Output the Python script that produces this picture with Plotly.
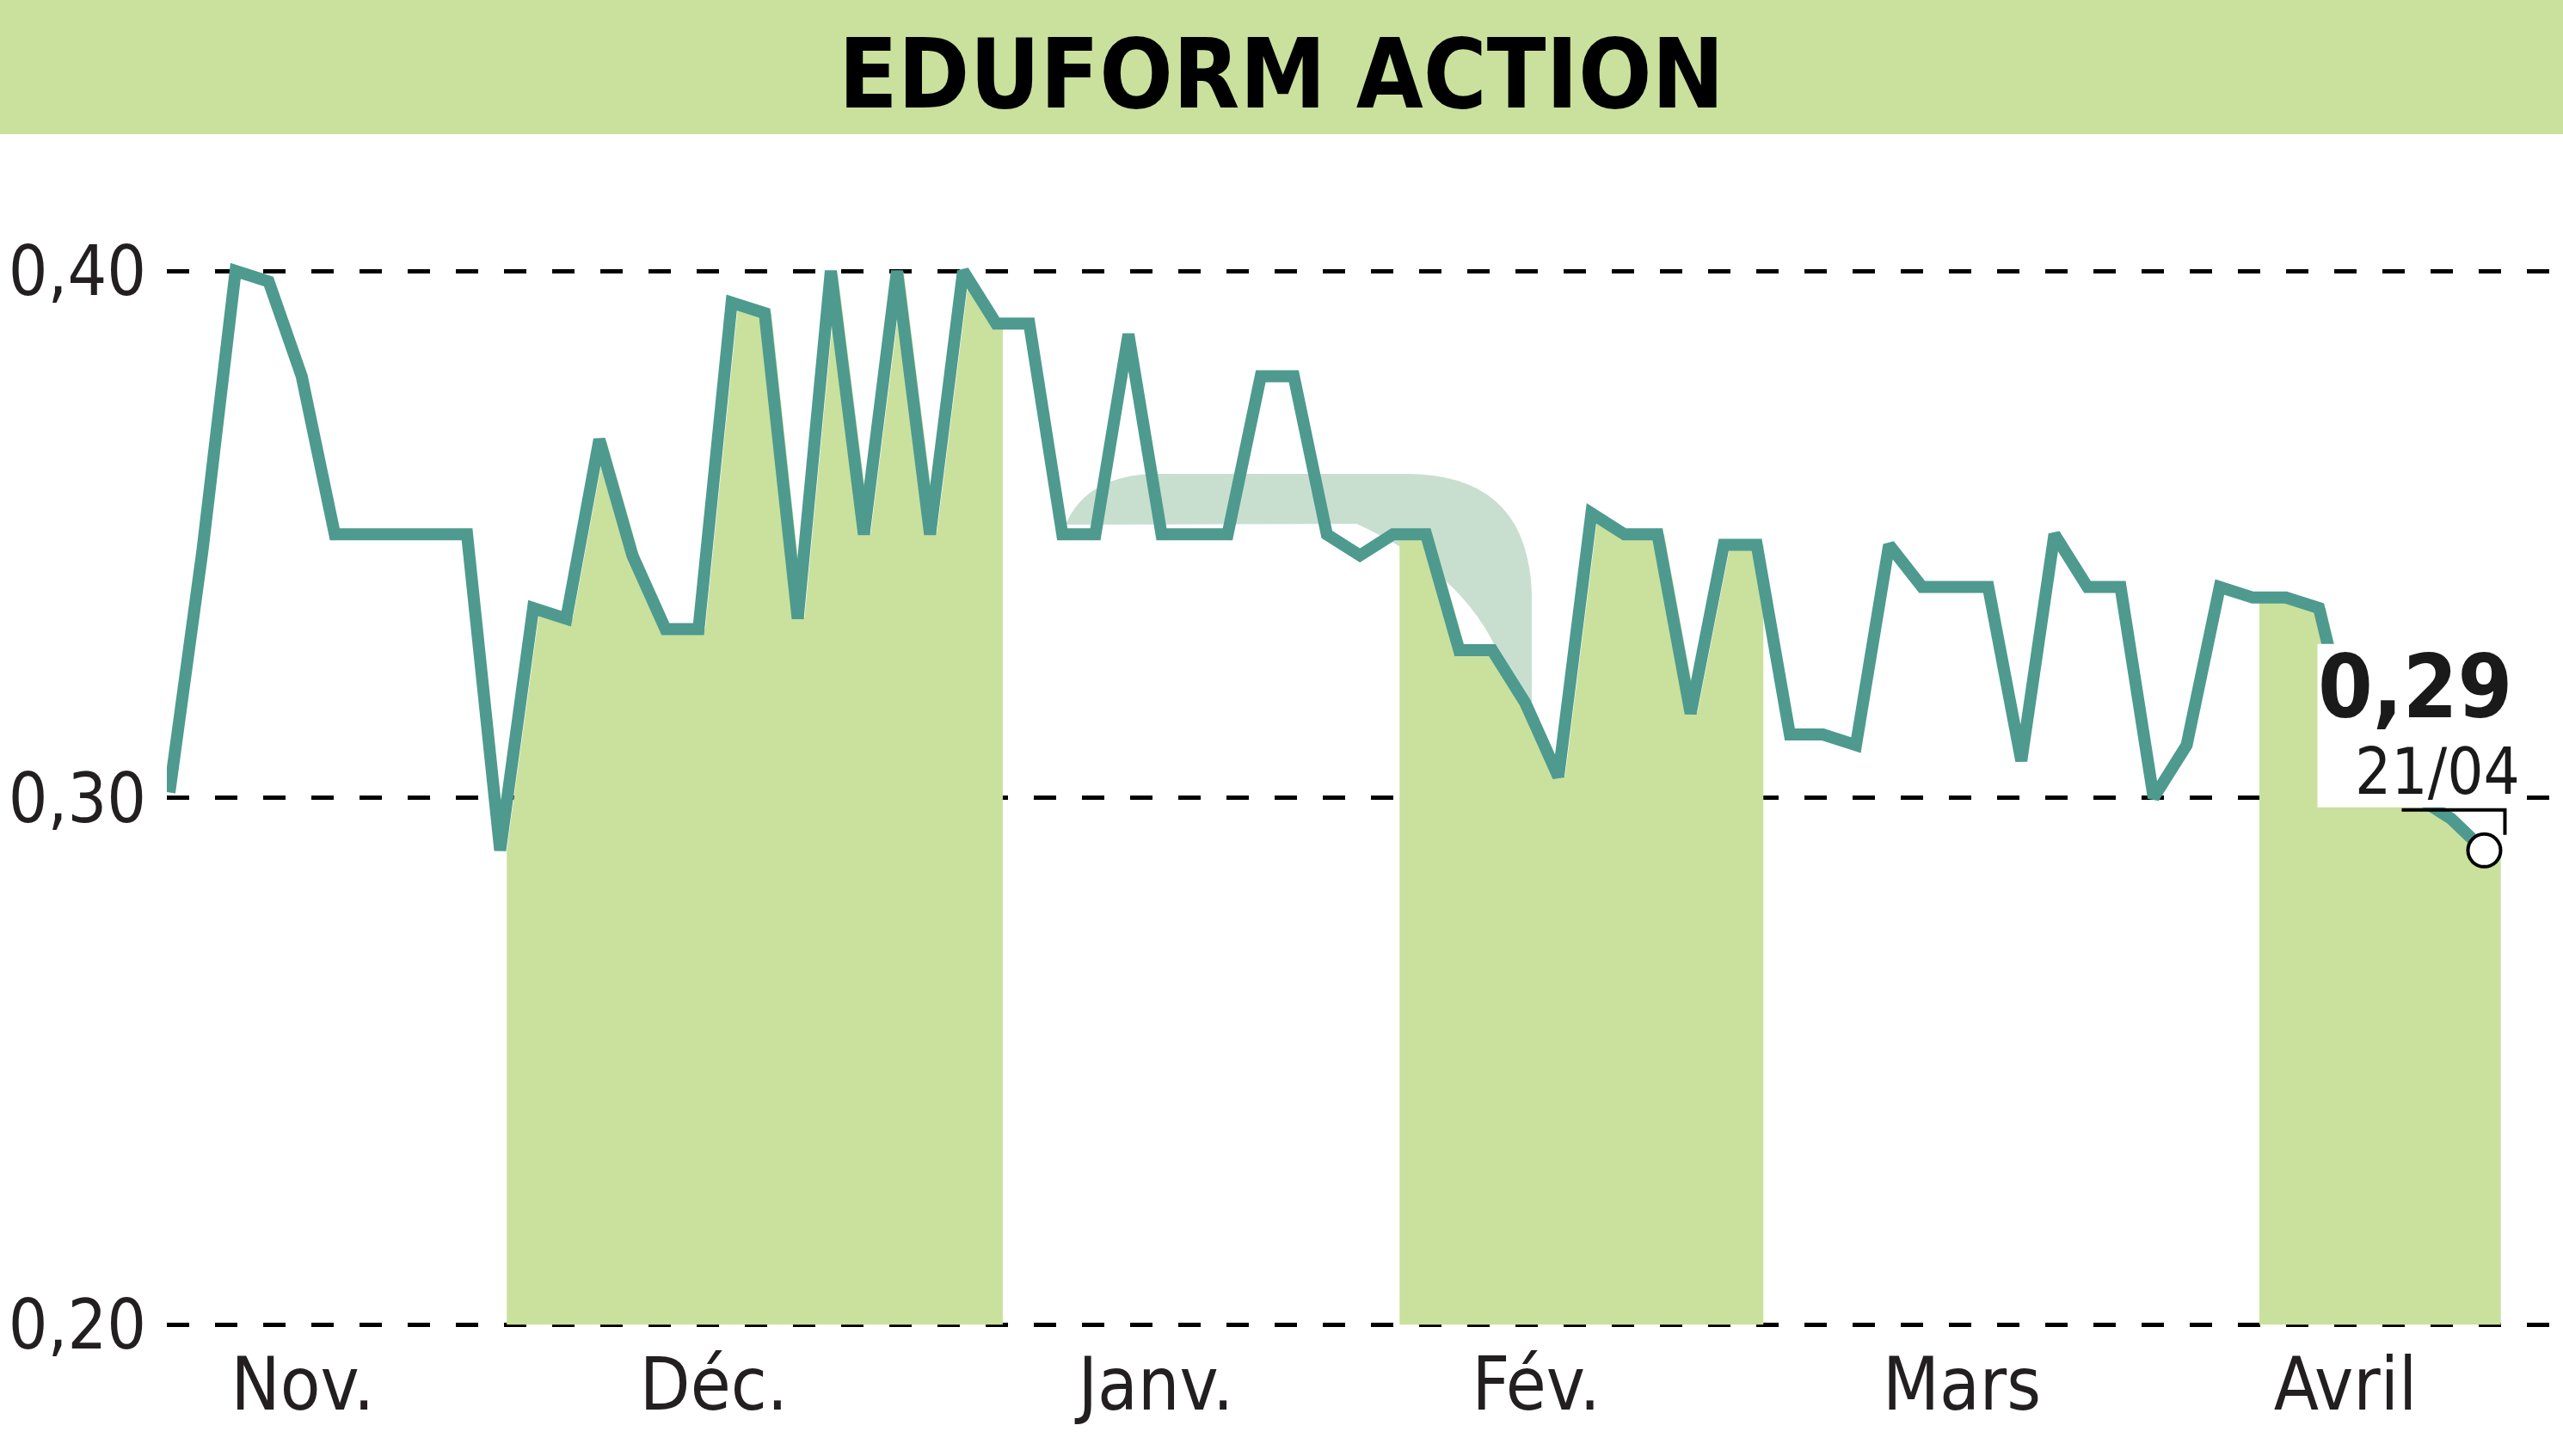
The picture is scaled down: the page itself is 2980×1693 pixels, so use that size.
import plotly.graph_objects as go

# ---------------- data ----------------
prices = [0.301, 0.347, 0.400, 0.398, 0.380, 0.350, 0.350, 0.350, 0.350, 0.350,
          0.290, 0.336, 0.334, 0.368, 0.346, 0.332, 0.332, 0.394, 0.392, 0.334,
          0.400, 0.350, 0.400, 0.350, 0.400, 0.390, 0.390, 0.350, 0.350, 0.388,
          0.350, 0.350, 0.350, 0.380, 0.380, 0.350, 0.346, 0.350, 0.350, 0.328,
          0.328, 0.318, 0.304, 0.354, 0.350, 0.350, 0.316, 0.348, 0.348, 0.312,
          0.312, 0.310, 0.348, 0.340, 0.340, 0.340, 0.307, 0.350, 0.340, 0.340,
          0.300, 0.310, 0.340, 0.338, 0.338, 0.336, 0.310, 0.300, 0.300, 0.296,
          0.290]
month_labels = ["Nov.", "Déc.", "Janv.", "Fév.", "Mars", "Avril"]
month_label_pos = [4.03, 16.46, 29.83, 41.33, 54.2, 65.8]
month_last_index = [10, 25, 37, 48, 63, 70]   # last session of each month
shaded_months = [(10, 25), (37, 48), (63, 70)]  # Déc., Fév., Avril
y_ticks = [0.20, 0.30, 0.40]
y_ticktext = ["0,20", "0,30", "0,40"]
last_price_text = "0,29"
last_date_text = "21/04"
title_text = "EDUFORM ACTION"

# ---------------- layout geometry ----------------
W, H = 2980, 1693
L, R, T, B = 194, 15, 170, 148
PW, PH = W - L - R, H - T - B
X_RANGE = [-0.078, 71.99]
Y_RANGE = [0.19922, 0.42367]

def px_x(px):
    return (px - L) / PW

def px_y(py):
    return (H - B - py) / PH

GREEN = "#c9e19d"
TEAL = "#4e9a8f"
FONT = "DejaVu Sans Condensed, Liberation Sans Narrow, sans-serif"

idx = list(range(len(prices)))
fig = go.Figure()

# shaded month areas (under the curve)
SHIFT = 0.2
n = len(prices)
for a, b in shaded_months:
    xs = [i + SHIFT for i in range(a, b + 1)]
    ys = prices[a:b + 1]
    if b == n - 1:
        xs = xs + [b + 0.5]
        ys = ys + [prices[b]]
    fx = [xs[0]] + xs + [xs[-1]]
    fy = [0.20] + ys + [0.20]
    fig.add_trace(go.Scatter(x=fx, y=fy, fill="toself", fillcolor=GREEN,
                             line=dict(width=0), mode="lines",
                             hoverinfo="skip", showlegend=False))

# price line
fig.add_trace(go.Scatter(x=idx, y=prices, mode="lines",
                         line=dict(color=TEAL, width=14),
                         showlegend=False, hoverinfo="skip"))

shapes = []
# title band
shapes.append(dict(type="rect", xref="paper", yref="paper",
                   x0=px_x(0), x1=px_x(W), y0=px_y(156), y1=px_y(0),
                   fillcolor=GREEN, line=dict(width=0), layer="below"))

# faint watermark arc
wm = [("M", 1239, 610), ("Q", 1262, 556, 1335, 551), ("L", 1635, 551),
      ("Q", 1781, 551, 1781, 699), ("L", 1781, 822), ("L", 1760, 818),
      ("Q", 1735, 680, 1577, 609), ("L", 1239, 610)]
parts = []
for seg in wm:
    cmd = seg[0]
    pts = seg[1:]
    coords = []
    for j in range(0, len(pts), 2):
        coords.append(f"{px_x(pts[j]):.5f},{px_y(pts[j+1]):.5f}")
    parts.append(cmd + " " + " ".join(coords))
shapes.append(dict(type="path", xref="paper", yref="paper",
                   path=" ".join(parts) + " Z",
                   fillcolor="#c8dfd0", line=dict(width=0), layer="below"))

last_i = n - 1
last_v = prices[-1]
# white label box
shapes.append(dict(type="rect", xref="x", yref="y", xsizemode="pixel", ysizemode="pixel",
                   xanchor=last_i, yanchor=last_v, x0=-194, x1=31, y0=50, y1=240,
                   fillcolor="white", line=dict(width=0), layer="above"))
# bracket
shapes.append(dict(type="path", xref="x", yref="y", xsizemode="pixel", ysizemode="pixel",
                   xanchor=last_i, yanchor=last_v,
                   path="M -96,47 L 24,47 L 24,18",
                   line=dict(color="black", width=4), layer="above"))

fig.add_trace(go.Scatter(x=[last_i], y=[last_v], mode="markers",
                         marker=dict(symbol="circle", size=38, color="white",
                                     line=dict(color="black", width=4)),
                         showlegend=False, hoverinfo="skip"))

annotations = [
    dict(text=f"<b>{title_text}</b>", xref="paper", yref="paper",
         x=px_x(1490), y=px_y(86), xanchor="center", yanchor="middle",
         showarrow=False, font=dict(family=FONT, size=112, color="black")),
    dict(text=f"<b>{last_price_text}</b>", xref="x", yref="y", x=last_i, y=last_v,
         xshift=-80, yshift=190, xanchor="center", yanchor="middle", showarrow=False,
         font=dict(family=FONT, size=102, color="#1a1a1a")),
    dict(text=last_date_text, xref="x", yref="y", x=last_i, y=last_v,
         xshift=-54, yshift=92, xanchor="center", yanchor="middle", showarrow=False,
         font=dict(family=FONT, size=74, color="#1a1a1a")),
]

fig.update_layout(
    width=W, height=H,
    margin=dict(l=L, r=R, t=T, b=B, pad=0, autoexpand=False),
    paper_bgcolor="white", plot_bgcolor="rgba(0,0,0,0)",
    shapes=shapes, annotations=annotations, showlegend=False,
    xaxis=dict(range=X_RANGE, showgrid=False, zeroline=False, showline=False,
               automargin=False,
               tickmode="array", tickvals=month_label_pos, ticktext=month_labels,
               ticks="", ticklabelstandoff=8,
               tickfont=dict(family=FONT, size=85, color="#231f20")),
    yaxis=dict(range=Y_RANGE, showgrid=True, gridcolor="black", gridwidth=5,
               griddash="26px,30px", zeroline=False, showline=False,
               automargin=False,
               tickmode="array", tickvals=y_ticks, ticktext=y_ticktext,
               ticks="", ticklabelstandoff=23,
               tickfont=dict(family=FONT, size=80, color="#231f20")),
)

fig.write_html("out.html", config={"displayModeBar": False},
               post_script="document.body.style.margin='0';document.body.style.overflow='hidden';")
